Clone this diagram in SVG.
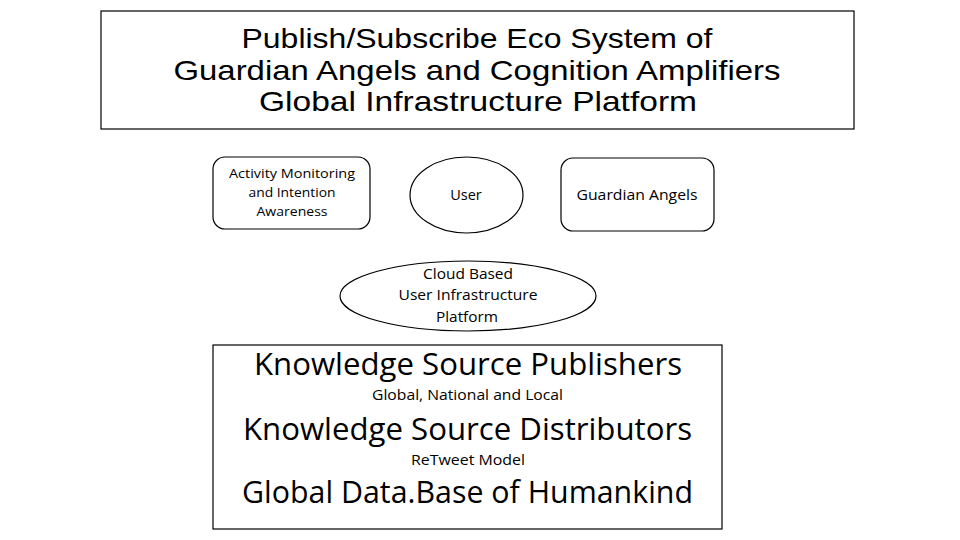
<svg xmlns="http://www.w3.org/2000/svg" width="960" height="540" viewBox="0 0 960 540">
<style>
.box{fill:#fff;stroke:#000;stroke-width:1.2}
text{font-family:"Open Sans","Liberation Sans",sans-serif;fill:#000;text-anchor:middle}
.big{font-size:31px}
.ttl{font-family:"Liberation Sans","Open Sans",sans-serif;font-size:28px}
.sm{font-size:13px}
.md{font-size:14.5px}
</style>
<rect width="960" height="540" fill="#fff"/>
<g id="title">
<rect class="box" x="101" y="11" width="753" height="118"/>
<text class="ttl" x="477" y="48" textLength="471" lengthAdjust="spacingAndGlyphs">Publish/Subscribe Eco System of</text>
<text class="ttl" x="477" y="80" textLength="607" lengthAdjust="spacingAndGlyphs">Guardian Angels and Cognition Amplifiers</text>
<text class="ttl" x="478" y="111" textLength="438" lengthAdjust="spacingAndGlyphs">Global Infrastructure Platform</text>
</g>
<g id="activity">
<rect class="box" x="213" y="157" width="157" height="72" rx="12"/>
<text class="sm" x="292" y="178" textLength="126" lengthAdjust="spacingAndGlyphs">Activity Monitoring</text>
<text class="sm" x="292" y="197" textLength="87" lengthAdjust="spacingAndGlyphs">and Intention</text>
<text class="sm" x="292" y="216" textLength="71" lengthAdjust="spacingAndGlyphs">Awareness</text>
</g>
<g id="user">
<ellipse class="box" cx="466.5" cy="195" rx="56.5" ry="38"/>
<text class="md" x="466" y="200">User</text>
</g>
<g id="guardian">
<rect class="box" x="561" y="158" width="153" height="73" rx="12"/>
<text class="md" x="637" y="200" textLength="121" lengthAdjust="spacingAndGlyphs">Guardian Angels</text>
</g>
<g id="cloud">
<ellipse class="box" cx="468" cy="296" rx="128" ry="35"/>
<text class="md" x="468" y="279" textLength="90" lengthAdjust="spacingAndGlyphs">Cloud Based</text>
<text class="md" x="468" y="300" textLength="139" lengthAdjust="spacingAndGlyphs">User Infrastructure</text>
<text class="md" x="467" y="322" textLength="62" lengthAdjust="spacingAndGlyphs">Platform</text>
</g>
<g id="knowledge">
<rect class="box" x="213" y="345" width="509" height="184"/>
<text class="big" x="468" y="375" textLength="428" lengthAdjust="spacingAndGlyphs">Knowledge Source Publishers</text>
<text class="md" x="467.5" y="400" textLength="191" lengthAdjust="spacingAndGlyphs">Global, National and Local</text>
<text class="big" x="467.5" y="440" textLength="449" lengthAdjust="spacingAndGlyphs">Knowledge Source Distributors</text>
<text class="md" x="468" y="465" textLength="114" lengthAdjust="spacingAndGlyphs">ReTweet Model</text>
<text class="big" x="467.5" y="503" textLength="451" lengthAdjust="spacingAndGlyphs">Global Data.Base of Humankind</text>
</g>
<g id="connectors"></g>
</svg>
